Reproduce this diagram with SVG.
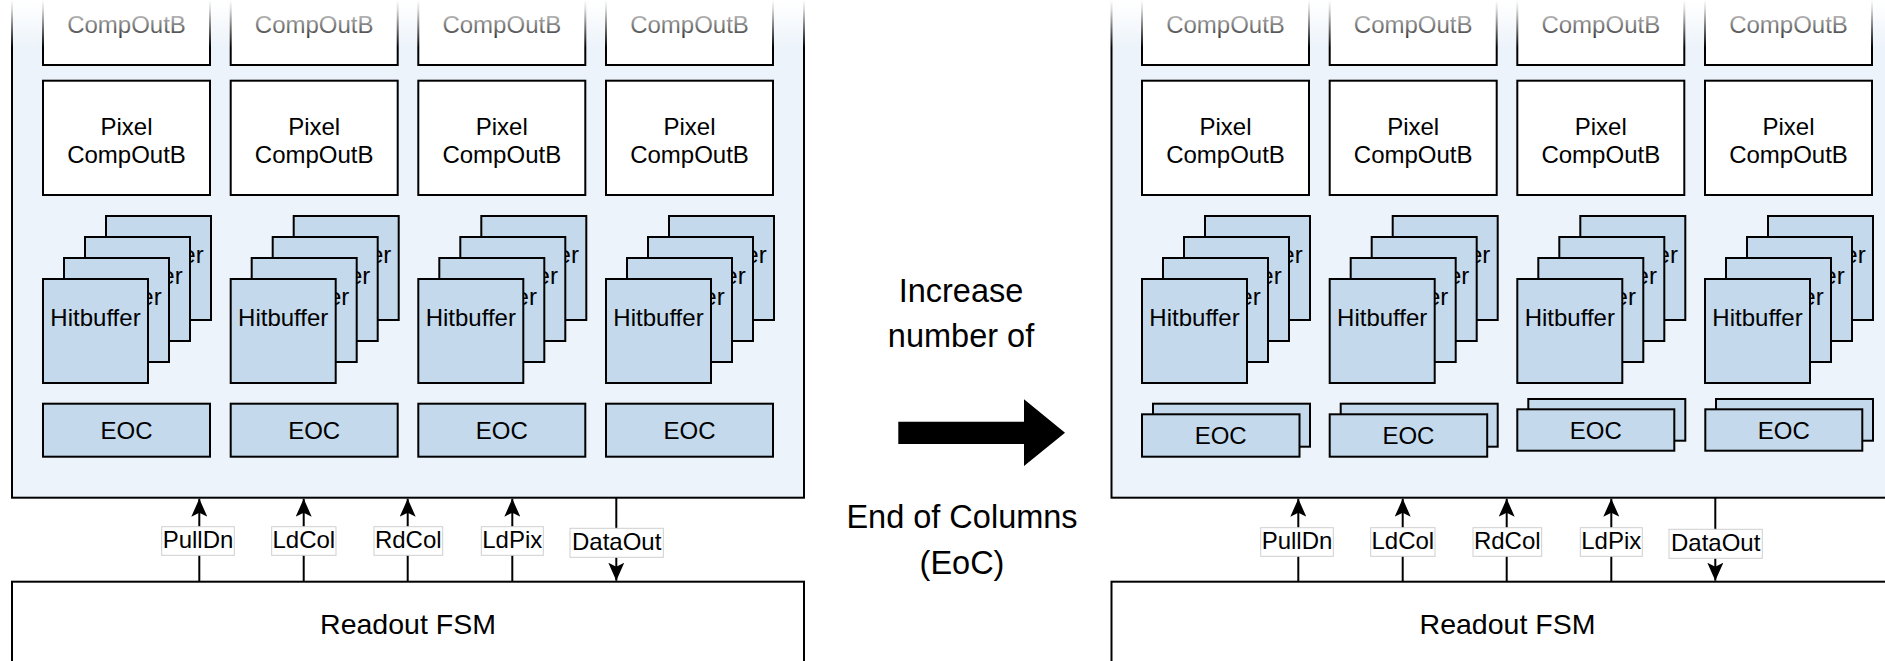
<svg xmlns="http://www.w3.org/2000/svg" width="1885" height="661" viewBox="0 0 1885 661">
  <defs>
    <style>
      text { font-family: "Liberation Sans", Arial, Helvetica, sans-serif; fill: #000; text-anchor: middle; }
      .t24 { font-size: 24px; }
      .t28 { font-size: 28.5px; }
      .t32 { font-size: 32.5px; }
      .frame { fill: #ECF3FA; stroke: #000; stroke-width: 2; }
      .cell { fill: #fff; stroke: #000; stroke-width: 2; }
      .buf { fill: #C4D9EC; stroke: #000; stroke-width: 2; }
      .fsm { fill: #fff; stroke: #000; stroke-width: 2; }
      .wire { fill: none; stroke: #000; stroke-width: 2; }
      .tag { fill: #fff; stroke: #CFCFCF; stroke-width: 1; }
    </style>
    <marker id="head" markerUnits="userSpaceOnUse" viewBox="0 0 18 16" refX="18" refY="8" markerWidth="18" markerHeight="16" orient="auto">
      <path d="M0,0 L18,8 L0,16 L4,8 Z" fill="#000"/>
    </marker>
    <linearGradient id="fade" x1="0" y1="0" x2="0" y2="1">
      <stop offset="0" stop-color="#fff" stop-opacity="1"/>
      <stop offset="0.2" stop-color="#fff" stop-opacity="0.85"/>
      <stop offset="1" stop-color="#fff" stop-opacity="0"/>
    </linearGradient>
  </defs>

  <!-- ===== Left array: one EOC per column ===== -->
  <g id="left-array">
    <rect class="frame" x="12" y="-20" width="792" height="517.7"/>
  </g>

  <g id="left-col1">
    <rect class="cell" x="43" y="-50" width="167" height="115"/>
    <text class="t24" x="126.5" y="32.5">CompOutB</text>
    <rect class="cell" x="43" y="80.7" width="167" height="114.3"/>
    <text class="t24" x="126.5" y="135">Pixel</text>
    <text class="t24" x="126.5" y="163.3">CompOutB</text>
    <rect class="buf" x="106" y="216" width="105" height="104"/>
    <text class="t24" x="158.5" y="262.7">Hitbuffer</text>
    <rect class="buf" x="85" y="237" width="105" height="104"/>
    <text class="t24" x="137.5" y="283.7">Hitbuffer</text>
    <rect class="buf" x="64" y="258" width="105" height="104"/>
    <text class="t24" x="116.5" y="304.7">Hitbuffer</text>
    <rect class="buf" x="43" y="279" width="105" height="104"/>
    <text class="t24" x="95.5" y="325.7">Hitbuffer</text>
    <rect class="buf" x="43" y="403.7" width="167" height="53"/>
    <text class="t24" x="126.5" y="439">EOC</text>
  </g>

  <g id="left-col2">
    <rect class="cell" x="230.7" y="-50" width="167" height="115"/>
    <text class="t24" x="314.2" y="32.5">CompOutB</text>
    <rect class="cell" x="230.7" y="80.7" width="167" height="114.3"/>
    <text class="t24" x="314.2" y="135">Pixel</text>
    <text class="t24" x="314.2" y="163.3">CompOutB</text>
    <rect class="buf" x="293.7" y="216" width="105" height="104"/>
    <text class="t24" x="346.2" y="262.7">Hitbuffer</text>
    <rect class="buf" x="272.7" y="237" width="105" height="104"/>
    <text class="t24" x="325.2" y="283.7">Hitbuffer</text>
    <rect class="buf" x="251.7" y="258" width="105" height="104"/>
    <text class="t24" x="304.2" y="304.7">Hitbuffer</text>
    <rect class="buf" x="230.7" y="279" width="105" height="104"/>
    <text class="t24" x="283.2" y="325.7">Hitbuffer</text>
    <rect class="buf" x="230.7" y="403.7" width="167" height="53"/>
    <text class="t24" x="314.2" y="439">EOC</text>
  </g>

  <g id="left-col3">
    <rect class="cell" x="418.3" y="-50" width="167" height="115"/>
    <text class="t24" x="501.8" y="32.5">CompOutB</text>
    <rect class="cell" x="418.3" y="80.7" width="167" height="114.3"/>
    <text class="t24" x="501.8" y="135">Pixel</text>
    <text class="t24" x="501.8" y="163.3">CompOutB</text>
    <rect class="buf" x="481.3" y="216" width="105" height="104"/>
    <text class="t24" x="533.8" y="262.7">Hitbuffer</text>
    <rect class="buf" x="460.3" y="237" width="105" height="104"/>
    <text class="t24" x="512.8" y="283.7">Hitbuffer</text>
    <rect class="buf" x="439.3" y="258" width="105" height="104"/>
    <text class="t24" x="491.8" y="304.7">Hitbuffer</text>
    <rect class="buf" x="418.3" y="279" width="105" height="104"/>
    <text class="t24" x="470.8" y="325.7">Hitbuffer</text>
    <rect class="buf" x="418.3" y="403.7" width="167" height="53"/>
    <text class="t24" x="501.8" y="439">EOC</text>
  </g>

  <g id="left-col4">
    <rect class="cell" x="606" y="-50" width="167" height="115"/>
    <text class="t24" x="689.5" y="32.5">CompOutB</text>
    <rect class="cell" x="606" y="80.7" width="167" height="114.3"/>
    <text class="t24" x="689.5" y="135">Pixel</text>
    <text class="t24" x="689.5" y="163.3">CompOutB</text>
    <rect class="buf" x="669" y="216" width="105" height="104"/>
    <text class="t24" x="721.5" y="262.7">Hitbuffer</text>
    <rect class="buf" x="648" y="237" width="105" height="104"/>
    <text class="t24" x="700.5" y="283.7">Hitbuffer</text>
    <rect class="buf" x="627" y="258" width="105" height="104"/>
    <text class="t24" x="679.5" y="304.7">Hitbuffer</text>
    <rect class="buf" x="606" y="279" width="105" height="104"/>
    <text class="t24" x="658.5" y="325.7">Hitbuffer</text>
    <rect class="buf" x="606" y="403.7" width="167" height="53"/>
    <text class="t24" x="689.5" y="439">EOC</text>
  </g>

  <g id="left-fsm">
    <rect class="fsm" x="12" y="581.7" width="792" height="120"/>
    <text class="t28" x="408" y="634">Readout FSM</text>
  </g>

  <!-- ===== Right array: doubled EOC per column ===== -->
  <g id="right-array">
    <rect class="frame" x="1111.5" y="-20" width="792" height="517.7"/>
  </g>

  <g id="right-col1">
    <rect class="cell" x="1142" y="-50" width="167" height="115"/>
    <text class="t24" x="1225.5" y="32.5">CompOutB</text>
    <rect class="cell" x="1142" y="80.7" width="167" height="114.3"/>
    <text class="t24" x="1225.5" y="135">Pixel</text>
    <text class="t24" x="1225.5" y="163.3">CompOutB</text>
    <rect class="buf" x="1205" y="216" width="105" height="104"/>
    <text class="t24" x="1257.5" y="262.7">Hitbuffer</text>
    <rect class="buf" x="1184" y="237" width="105" height="104"/>
    <text class="t24" x="1236.5" y="283.7">Hitbuffer</text>
    <rect class="buf" x="1163" y="258" width="105" height="104"/>
    <text class="t24" x="1215.5" y="304.7">Hitbuffer</text>
    <rect class="buf" x="1142" y="279" width="105" height="104"/>
    <text class="t24" x="1194.5" y="325.7">Hitbuffer</text>
    <rect class="buf" x="1153" y="403.7" width="157" height="43"/>
    <rect class="buf" x="1142" y="414.3" width="157.5" height="42.4"/>
    <text class="t24" x="1220.7" y="444">EOC</text>
  </g>

  <g id="right-col2">
    <rect class="cell" x="1329.7" y="-50" width="167" height="115"/>
    <text class="t24" x="1413.2" y="32.5">CompOutB</text>
    <rect class="cell" x="1329.7" y="80.7" width="167" height="114.3"/>
    <text class="t24" x="1413.2" y="135">Pixel</text>
    <text class="t24" x="1413.2" y="163.3">CompOutB</text>
    <rect class="buf" x="1392.7" y="216" width="105" height="104"/>
    <text class="t24" x="1445.2" y="262.7">Hitbuffer</text>
    <rect class="buf" x="1371.7" y="237" width="105" height="104"/>
    <text class="t24" x="1424.2" y="283.7">Hitbuffer</text>
    <rect class="buf" x="1350.7" y="258" width="105" height="104"/>
    <text class="t24" x="1403.2" y="304.7">Hitbuffer</text>
    <rect class="buf" x="1329.7" y="279" width="105" height="104"/>
    <text class="t24" x="1382.2" y="325.7">Hitbuffer</text>
    <rect class="buf" x="1340.7" y="403.7" width="157" height="43"/>
    <rect class="buf" x="1329.7" y="414.3" width="157.5" height="42.4"/>
    <text class="t24" x="1408.4" y="444">EOC</text>
  </g>

  <g id="right-col3">
    <rect class="cell" x="1517.3" y="-50" width="167" height="115"/>
    <text class="t24" x="1600.8" y="32.5">CompOutB</text>
    <rect class="cell" x="1517.3" y="80.7" width="167" height="114.3"/>
    <text class="t24" x="1600.8" y="135">Pixel</text>
    <text class="t24" x="1600.8" y="163.3">CompOutB</text>
    <rect class="buf" x="1580.3" y="216" width="105" height="104"/>
    <text class="t24" x="1632.8" y="262.7">Hitbuffer</text>
    <rect class="buf" x="1559.3" y="237" width="105" height="104"/>
    <text class="t24" x="1611.8" y="283.7">Hitbuffer</text>
    <rect class="buf" x="1538.3" y="258" width="105" height="104"/>
    <text class="t24" x="1590.8" y="304.7">Hitbuffer</text>
    <rect class="buf" x="1517.3" y="279" width="105" height="104"/>
    <text class="t24" x="1569.8" y="325.7">Hitbuffer</text>
    <rect class="buf" x="1528.3" y="399" width="157" height="41.7"/>
    <rect class="buf" x="1517.3" y="409.3" width="157" height="41.4"/>
    <text class="t24" x="1595.8" y="439.3">EOC</text>
  </g>

  <g id="right-col4">
    <rect class="cell" x="1705" y="-50" width="167" height="115"/>
    <text class="t24" x="1788.5" y="32.5">CompOutB</text>
    <rect class="cell" x="1705" y="80.7" width="167" height="114.3"/>
    <text class="t24" x="1788.5" y="135">Pixel</text>
    <text class="t24" x="1788.5" y="163.3">CompOutB</text>
    <rect class="buf" x="1768" y="216" width="105" height="104"/>
    <text class="t24" x="1820.5" y="262.7">Hitbuffer</text>
    <rect class="buf" x="1747" y="237" width="105" height="104"/>
    <text class="t24" x="1799.5" y="283.7">Hitbuffer</text>
    <rect class="buf" x="1726" y="258" width="105" height="104"/>
    <text class="t24" x="1778.5" y="304.7">Hitbuffer</text>
    <rect class="buf" x="1705" y="279" width="105" height="104"/>
    <text class="t24" x="1757.5" y="325.7">Hitbuffer</text>
    <rect class="buf" x="1716" y="399" width="157" height="41.7"/>
    <rect class="buf" x="1705.3" y="409.3" width="157" height="41.4"/>
    <text class="t24" x="1783.8" y="439.3">EOC</text>
  </g>

  <g id="right-fsm">
    <rect class="fsm" x="1111.5" y="581.7" width="792" height="120"/>
    <text class="t28" x="1507.5" y="634">Readout FSM</text>
  </g>

  <!-- ===== Central transition note ===== -->
  <g id="transition">
    <text class="t32" x="961" y="301.7">Increase</text>
    <text class="t32" x="961" y="346.7">number of</text>
    <polygon points="898.3,421.7 1024,421.7 1024,399.3 1065,432.7 1024,466 1024,444 898.3,444" fill="#000"/>
    <text class="t32" x="962" y="528.3">End of Columns</text>
    <text class="t32" x="962" y="574">(EoC)</text>
  </g>

  <!-- ===== Control and data lines between FSM and array ===== -->
  <g id="connectors">
    <line class="wire" x1="199.3" y1="581.7" x2="199.3" y2="498.7" marker-end="url(#head)"/>
    <line class="wire" x1="303.7" y1="581.7" x2="303.7" y2="498.7" marker-end="url(#head)"/>
    <line class="wire" x1="407.7" y1="581.7" x2="407.7" y2="498.7" marker-end="url(#head)"/>
    <line class="wire" x1="512.3" y1="581.7" x2="512.3" y2="498.7" marker-end="url(#head)"/>
    <line class="wire" x1="616.3" y1="497.7" x2="616.3" y2="580.7" marker-end="url(#head)"/>

    <line class="wire" x1="1298.3" y1="581.7" x2="1298.3" y2="498.7" marker-end="url(#head)"/>
    <line class="wire" x1="1402.7" y1="581.7" x2="1402.7" y2="498.7" marker-end="url(#head)"/>
    <line class="wire" x1="1506.7" y1="581.7" x2="1506.7" y2="498.7" marker-end="url(#head)"/>
    <line class="wire" x1="1611.3" y1="581.7" x2="1611.3" y2="498.7" marker-end="url(#head)"/>
    <line class="wire" x1="1715.3" y1="497.7" x2="1715.3" y2="580.7" marker-end="url(#head)"/>

    <g id="left-labels">
      <rect class="tag" x="161.7" y="526.7" width="72.6" height="28.6"/>
      <text class="t24" x="198" y="548.3">PullDn</text>
      <rect class="tag" x="271.7" y="526.7" width="64.3" height="28.6"/>
      <text class="t24" x="303.8" y="548.3">LdCol</text>
      <rect class="tag" x="374" y="526.7" width="68.7" height="28.6"/>
      <text class="t24" x="408.3" y="548.3">RdCol</text>
      <rect class="tag" x="481.3" y="526.7" width="62" height="28.6"/>
      <text class="t24" x="512.3" y="548.3">LdPix</text>
      <rect class="tag" x="570" y="528.3" width="93.3" height="29"/>
      <text class="t24" x="616.7" y="550.3">DataOut</text>
    </g>
    <g id="right-labels">
      <rect class="tag" x="1260.7" y="527.7" width="72.6" height="28.6"/>
      <text class="t24" x="1297" y="549.3">PullDn</text>
      <rect class="tag" x="1370.7" y="527.7" width="64.3" height="28.6"/>
      <text class="t24" x="1402.8" y="549.3">LdCol</text>
      <rect class="tag" x="1473" y="527.7" width="68.7" height="28.6"/>
      <text class="t24" x="1507.3" y="549.3">RdCol</text>
      <rect class="tag" x="1580.3" y="527.7" width="62" height="28.6"/>
      <text class="t24" x="1611.3" y="549.3">LdPix</text>
      <rect class="tag" x="1669" y="529.3" width="93.3" height="29"/>
      <text class="t24" x="1715.7" y="551.3">DataOut</text>
    </g>
  </g>

  <!-- soft fade of the array continuing upward -->
  <rect x="0" y="0" width="1885" height="48" fill="url(#fade)"/>
</svg>
